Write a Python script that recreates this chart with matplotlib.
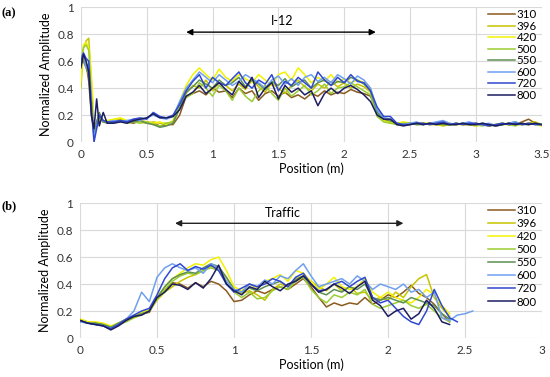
import numpy as np
import matplotlib
matplotlib.use("Agg")
import matplotlib.pyplot as plt

plt.rcParams['font.family'] = ['Lato', 'DejaVu Sans']

labels = ["310", "396", "420", "500", "550", "600", "720", "800"]
colors = ["#8B5A1E", "#C8C400", "#F2F200", "#9ACD32", "#5E8F52", "#6FA0F0", "#3048D0", "#1C1C60"]

# ---------------- panel (a): I-12 ----------------
x_a = np.concatenate([[0.0, 0.02, 0.04, 0.06, 0.08, 0.10, 0.12, 0.14, 0.17],
                      np.round(np.arange(0.20, 3.5001, 0.05), 2)])

a_310 = [.55, .62, .58, .45, .20, .08, .15, .20, .15,
         .15, .15, .16, .15, .14, .16, .15, .14, .12, .13, .13, .20,
         .34, .36, .38, .35, .40, .37, .38, .33, .40, .36, .38, .31, .36, .38, .34, .37, .33, .35, .32, .36, .34, .38, .35, .37, .36, .39, .37, .36, .34,
         .22, .17, .15, .13, .13, .14, .13, .14, .13, .14, .13, .13, .14, .13, .13, .14, .13, .12, .13, .14, .13, .13, .15, .17, .14, .13]
a_396 = [.40, .70, .75, .77, .45, .10, .12, .18, .15,
         .15, .16, .17, .15, .16, .15, .14, .15, .14, .14, .15, .25,
         .36, .42, .40, .46, .38, .44, .42, .38, .43, .39, .46, .41, .37, .44, .40, .36, .42, .46, .41, .38, .43, .40, .45, .41, .44, .40, .43, .41, .37,
         .21, .16, .15, .14, .13, .13, .14, .14, .13, .13, .12, .13, .13, .14, .13, .12, .13, .12, .13, .13, .14, .13, .13, .14, .15, .13]
a_420 = [.45, .72, .74, .70, .50, .15, .10, .17, .16,
         .16, .17, .18, .16, .15, .16, .15, .14, .15, .13, .16, .30,
         .42, .50, .55, .50, .46, .54, .48, .45, .50, .47, .44, .50, .46, .42, .50, .52, .46, .55, .50, .44, .48, .45, .50, .44, .47, .44, .46, .44, .40,
         .20, .16, .14, .14, .15, .14, .13, .14, .14, .13, .13, .14, .13, .13, .14, .12, .13, .13, .12, .13, .13, .14, .13, .14, .13, .12]
a_500 = [.60, .70, .72, .68, .35, .05, .12, .20, .15,
         .15, .15, .16, .14, .15, .14, .15, .13, .12, .14, .15, .28,
         .33, .36, .44, .40, .34, .42, .38, .31, .40, .34, .30, .38, .42, .36, .31, .40, .34, .38, .42, .35, .38, .43, .36, .40, .41, .44, .41, .38, .35,
         .19, .15, .14, .13, .14, .14, .14, .13, .14, .13, .14, .13, .14, .13, .13, .13, .12, .13, .13, .14, .13, .12, .14, .13, .14, .13]
a_550 = [.58, .60, .55, .50, .30, .05, .15, .22, .15,
         .14, .15, .16, .15, .15, .16, .14, .13, .11, .12, .14, .25,
         .37, .41, .46, .43, .40, .46, .42, .44, .48, .41, .46, .43, .39, .45, .42, .47, .41, .44, .46, .40, .44, .46, .42, .45, .44, .48, .46, .43, .38,
         .22, .17, .16, .14, .13, .14, .13, .13, .14, .14, .13, .13, .13, .14, .13, .13, .14, .13, .12, .13, .14, .15, .13, .13, .14, .13]
a_600 = [.62, .66, .55, .58, .30, .03, .12, .20, .16,
         .15, .16, .15, .16, .17, .16, .18, .20, .18, .17, .19, .30,
         .40, .46, .52, .48, .44, .50, .46, .42, .45, .50, .47, .44, .40, .46, .49, .43, .47, .42, .48, .50, .45, .48, .44, .50, .47, .43, .49, .46, .40,
         .24, .18, .17, .14, .13, .14, .15, .13, .14, .15, .16, .14, .13, .14, .15, .13, .13, .14, .12, .13, .14, .15, .13, .14, .13, .13]
a_720 = [.60, .66, .62, .60, .25, .00, .10, .20, .16,
         .15, .15, .16, .15, .17, .18, .17, .22, .19, .18, .20, .28,
         .38, .45, .50, .40, .48, .44, .42, .47, .52, .44, .40, .46, .43, .50, .38, .45, .42, .48, .44, .40, .52, .46, .42, .48, .44, .50, .45, .44, .38,
         .26, .19, .19, .14, .13, .13, .14, .14, .13, .14, .15, .13, .14, .13, .14, .14, .13, .12, .13, .14, .13, .14, .13, .14, .13, .13]
a_800 = [.55, .65, .60, .52, .20, .10, .32, .12, .22,
         .14, .14, .15, .14, .16, .17, .18, .21, .18, .18, .19, .24,
         .34, .37, .42, .36, .40, .44, .39, .35, .45, .40, .48, .33, .40, .44, .32, .42, .37, .40, .35, .38, .27, .36, .40, .36, .40, .42, .39, .35, .30,
         .20, .17, .17, .13, .12, .13, .14, .13, .14, .13, .14, .13, .13, .14, .13, .13, .14, .13, .12, .13, .14, .13, .14, .13, .14, .13]

# ---------------- panel (b): Traffic ----------------
x_b = np.round(np.arange(0.0, 2.5501, 0.05), 2)

b_310 = [.13, .11, .11, .10, .08, .11, .14, .16, .18, .19,
         .30, .35, .41, .40, .37, .41, .38, .42, .40, .35,
         .27, .28, .32, .35, .33, .36, .38, .36, .40, .44,
         .38, .30, .23, .26, .24, .26, .25, .30, .25, .28,
         .32, .30, .34, .39, .33, .30, .25, .18, .12]
b_396 = [.14, .12, .11, .10, .08, .10, .13, .15, .18, .20,
         .28, .34, .38, .42, .45, .47, .50, .53, .52, .45,
         .36, .33, .35, .32, .28, .36, .40, .38, .44, .46,
         .42, .38, .35, .40, .35, .38, .33, .34, .28, .30,
         .28, .34, .30, .38, .44, .47, .30, .22, .16]
b_420 = [.14, .12, .12, .11, .09, .11, .13, .16, .19, .21,
         .30, .38, .44, .48, .52, .55, .54, .58, .60, .50,
         .38, .35, .40, .37, .42, .44, .47, .42, .50, .48,
         .42, .36, .40, .45, .38, .36, .38, .44, .34, .30,
         .34, .30, .28, .26, .30, .36, .32, .24, .18]
b_500 = [.13, .11, .11, .10, .08, .10, .12, .15, .17, .20,
         .29, .36, .42, .46, .48, .47, .50, .52, .50, .42,
         .34, .30, .34, .29, .30, .35, .38, .36, .42, .45,
         .36, .30, .26, .32, .30, .34, .32, .36, .25, .22,
         .24, .26, .28, .24, .22, .25, .20, .15, .12]
b_550 = [.13, .11, .11, .10, .08, .11, .14, .16, .18, .20,
         .30, .38, .44, .47, .49, .48, .52, .55, .53, .45,
         .36, .34, .37, .35, .38, .40, .42, .38, .43, .46,
         .40, .34, .32, .36, .34, .38, .36, .40, .30, .28,
         .30, .28, .26, .30, .28, .26, .24, .18, .14]
b_600 = [.12, .11, .10, .09, .07, .10, .14, .20, .34, .27,
         .45, .52, .55, .52, .50, .52, .48, .55, .52, .42,
         .36, .34, .40, .38, .43, .40, .46, .44, .50, .55,
         .46, .38, .40, .42, .44, .40, .46, .42, .36, .40,
         .38, .36, .40, .34, .36, .30, .34, .15, .13, .17, .18, .20]
b_720 = [.13, .11, .10, .09, .07, .10, .14, .17, .20, .22,
         .32, .44, .52, .55, .50, .53, .51, .54, .50, .40,
         .34, .37, .40, .38, .40, .44, .42, .38, .45, .48,
         .40, .35, .36, .40, .42, .38, .42, .45, .30, .26,
         .28, .22, .16, .12, .10, .20, .36, .24, .15, .12]
b_800 = [.13, .11, .10, .09, .06, .09, .13, .16, .17, .20,
         .30, .34, .40, .39, .36, .41, .37, .44, .54, .40,
         .35, .32, .38, .36, .42, .38, .35, .40, .42, .46,
         .40, .34, .36, .40, .37, .33, .38, .42, .28, .24,
         .16, .20, .22, .14, .18, .28, .22, .12, .10]

series_a = [a_310, a_396, a_420, a_500, a_550, a_600, a_720, a_800]
series_b = [b_310, b_396, b_420, b_500, b_550, b_600, b_720, b_800]

fig = plt.figure(figsize=(5.5, 3.77), dpi=100)
ax1 = fig.add_axes([0.147, 0.623, 0.838, 0.358])
ax2 = fig.add_axes([0.1455, 0.1034, 0.840, 0.358])

def style(ax, xmax, xticks):
    ax.set_xlim(0, xmax)
    ax.set_ylim(0, 1)
    ax.set_xticks(xticks)
    ax.set_xticklabels([f"{t:g}" for t in xticks])
    ax.set_yticks([0, 0.2, 0.4, 0.6, 0.8, 1.0])
    ax.set_yticklabels(["0", "0.2", "0.4", "0.6", "0.8", "1"])
    for s in ax.spines.values():
        s.set_visible(False)
    ax.grid(True, color="#D9D9D9", lw=0.8)
    ax.set_axisbelow(True)
    ax.tick_params(length=0, labelsize=8.5, colors="#333333", pad=5)
    ax.set_xlabel("Position (m)", fontsize=9, labelpad=2)
    ax.set_ylabel("Normalized Amplitude", fontsize=9, labelpad=4)

for y, lab, c in zip(series_a, labels, colors):
    ax1.plot(x_a[:len(y)], y, color=c, lw=1.1, label=lab)
for y, lab, c in zip(series_b, labels, colors):
    ax2.plot(x_b[:len(y)], y, color=c, lw=1.1, label=lab)

style(ax1, 3.5, [0, 0.5, 1, 1.5, 2, 2.5, 3, 3.5])
style(ax2, 3.0, [0, 0.5, 1, 1.5, 2, 2.5, 3])

ax1.annotate("", xy=(0.80, 0.815), xytext=(2.24, 0.815),
             arrowprops=dict(arrowstyle="<|-|>", color="black", lw=1.0,
                             mutation_scale=9, shrinkA=0, shrinkB=0))
ax1.text(1.53, 0.90, "I-12", ha="center", va="center", fontsize=9)
ax2.annotate("", xy=(0.617, 0.85), xytext=(2.10, 0.85),
             arrowprops=dict(arrowstyle="<|-|>", color="#222222", lw=1.0,
                             mutation_scale=9, shrinkA=0, shrinkB=0))
ax2.text(1.32, 0.926, "Traffic", ha="center", va="center", fontsize=9)

leg_kw = dict(loc="upper left", frameon=False, fontsize=8.3, handlelength=2.3,
              handletextpad=0.2, borderpad=0, borderaxespad=0)
ax1.legend(bbox_to_anchor=(488 / 550, 1 - 9 / 377), bbox_transform=fig.transFigure,
           labelspacing=0.05, **leg_kw)
ax2.legend(bbox_to_anchor=(488 / 550, 1 - 205 / 377), bbox_transform=fig.transFigure,
           labelspacing=0.18, **leg_kw)

fig.text(2 / 550, 1 - 13 / 377, "(a)", fontsize=9, family="Liberation Serif",
         fontweight="bold", va="center", ha="left")
fig.text(2 / 550, 1 - 206 / 377, "(b)", fontsize=9, family="Liberation Serif",
         fontweight="bold", va="center", ha="left")

fig.savefig("out.png", dpi=100)
